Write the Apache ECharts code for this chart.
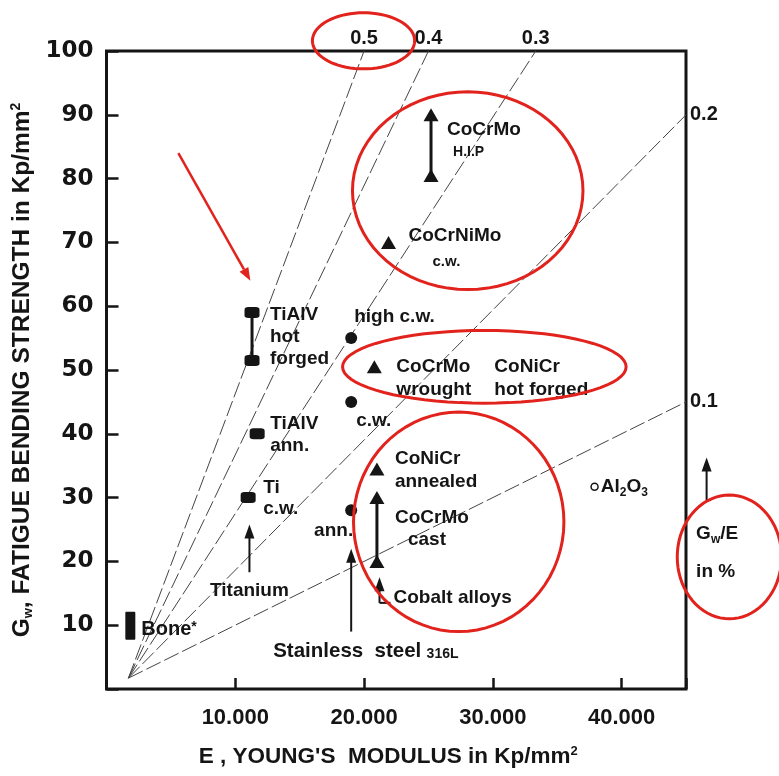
<!DOCTYPE html>
<html>
<head>
<meta charset="utf-8">
<title>Fatigue bending strength vs Young's modulus</title>
<script src="https://cdn.jsdelivr.net/npm/echarts@6/dist/echarts.min.js"></script>
<style>
  html, body { margin: 0; padding: 0; background: #fff; }
  #main { width: 779px; height: 776px; }
</style>
</head>
<body>
<div id="main"></div>
<script>
var FONT = "'Liberation Sans', Arial, sans-serif";
var WIDE = "'DejaVu Sans', sans-serif";
var INK = '#151515';
var RED = '#e2231d';

// sigma_w / E ratio lines, in %
var ratioValues = [0.5, 0.4, 0.3, 0.2, 0.1];
// the ratio lines are drawn from a common point near the origin, as in the original
var ratioFrom = [1700, 1.7];

// Titanium alloys (squares)
var tiModulus = [11300, 11300, 11700, 11000];
var tiStrength = [59, 51.5, 40, 30];
var tiLabels = ['TiAlV\nhot\nforged', '', 'TiAlV\nann.', 'Ti\nc.w.'];

// Stainless steel 316L (dots)
var steelModulus = [19000, 19000, 19000];
var steelStrength = [55, 45, 28];
var steelLabels = ['high c.w.', 'c.w.', 'ann.'];

// Cobalt alloys (triangles)
var coModulus = [25200, 25200, 21900, 20800, 21000, 21000, 21000];
var coStrength = [90, 80.5, 70, 50.5, 34.5, 30, 20];
var coLabels = [
  '{m|CoCrMo}\n{hip|H.I.P}', '',
  '{m|CoCrNiMo}\n{cw|c.w.}',
  '{w|CoCrMo}{m|CoNiCr}\n{w|wrought}{m|hot forged}',
  'CoNiCr\nannealed',
  '{m|CoCrMo}\n{ci|cast}', ''
];

// bars joining a range: Bone, TiAlV hot forged, CoCrMo H.I.P, CoCrMo cast
var rangeModulus = [1850, 11300, 25200, 21000];
var rangeLow = [7.7, 51.5, 80.5, 20];
var rangeHigh = [12.1, 59, 90, 30];

// ceramic
var aluminaModulus = [37900];
var aluminaStrength = [31.7];

// pointer arrows: modulus, tail, tip
var pointerModulus = [11100, 19000, 21200, 46600];
var pointerTail = [18.3, 9, 13.5, 29.5];
var pointerTip = [25.8, 22, 17.5, 36.3];
var pointerLabels = ['Titanium', '{big|Stainless  steel} {s|316L}', 'Cobalt alloys', '{m|G}{sub|w}{m|/E}\n{m|in %}'];

// red hand drawn rings: centre E, centre sigma, radius E, radius sigma
var ringCenterE = [19960, 28050, 29340, 27350, 48370];
var ringCenterS = [101.6, 78.1, 50.5, 26.2, 20.7];
var ringRadiusE = [3970, 8950, 11010, 8170, 4050];
var ringRadiusS = [4.4, 15.5, 5.7, 17.2, 9.7];
var redArrowFrom = [5580, 84];
var redArrowTo = [11170, 64];

var X_MAX = 45000;
var LS = 19;

var rich = {
  m: { fontFamily: FONT, fontWeight: 'bold', fontSize: LS, color: INK, lineHeight: 23 },
  w: { fontFamily: FONT, fontWeight: 'bold', fontSize: LS, color: INK, lineHeight: 19, width: 98 },
  hip: { fontFamily: FONT, fontWeight: 'bold', fontSize: 14, color: INK, lineHeight: 22, padding: [0, 0, 0, 6] },
  cw: { fontFamily: FONT, fontWeight: 'bold', fontSize: 15, color: INK, lineHeight: 29, padding: [0, 0, 0, 24] },
  ci: { fontFamily: FONT, fontWeight: 'bold', fontSize: LS, color: INK, lineHeight: 22, padding: [0, 0, 0, 13] }
};

/* label placed with its top-left corner at an offset from the marker */
function tag(text, dx, dy, lineHeight, align) {
  return {
    show: true, position: 'inside', align: align || 'left', verticalAlign: 'top',
    offset: [dx, dy], formatter: text,
    fontFamily: FONT, fontWeight: 'bold', fontSize: LS, color: INK,
    lineHeight: lineHeight || 23, rich: rich
  };
}

var tiTags = [[18, -8.5, 22], null, [13, -21.5, 22], [15, -20.5, 21]];
var steelTags = [[3, -32.5], [5, 7.5], [2, 8.5, 23, 'right']];
var coTags = [[16, 3.5], null, [20, -18.5], [22, -11.5, 19], [18, -21.5, 23], [18, 8.5], null];

function points(xs, ys, labels, tags) {
  return xs.map(function (x, i) {
    var item = { value: [x, ys[i]] };
    var t = tags && tags[i];
    if (t) item.label = tag(labels[i], t[0], t[1], t[2], t[3]);
    return item;
  });
}

var ratioSeries = ratioValues.map(function (r) {
  var eEnd = Math.min(X_MAX, 100 / r * 100);
  var atTop = eEnd < X_MAX;
  return {
    type: 'line', silent: true, showSymbol: true, symbolSize: 0, z: 1,
    lineStyle: { color: '#444', width: 1, type: [16, 4] },
    data: [
      ratioFrom,
      {
        value: [eEnd, eEnd * r / 100],
        label: {
          show: true, formatter: String(r),
          position: atTop ? 'top' : 'right', distance: atTop ? 3 : 4,
          fontFamily: FONT, fontWeight: 'bold', fontSize: 20, color: INK
        }
      }
    ]
  };
});

// caption offset from the tail [dx, dy, align, verticalAlign] and a little hook at the tail
var pointerText = [[0, 19, 'center', 'middle'], [-78, 20, 'left', 'middle'], [14, -5, 'left', 'middle'], [-10.5, 14, 'left', 'top']];
var pointerHook = [0, 0, 11, 0];

var pointerRich = {
  m: { fontFamily: FONT, fontWeight: 'bold', fontSize: LS, fill: INK, color: INK, lineHeight: 38 },
  big: { fontFamily: FONT, fontWeight: 'bold', fontSize: 20.5, fill: INK, color: INK, lineHeight: 26 },
  sub: { fontFamily: FONT, fontWeight: 'bold', fontSize: 12, fill: INK, color: INK, verticalAlign: 'middle', padding: [11, 0, 0, 0] },
  s: { fontFamily: FONT, fontWeight: 'bold', fontSize: 14, fill: INK, color: INK, verticalAlign: 'middle', padding: [5, 0, 0, 0] }
};

var option = {
  animation: false,
  backgroundColor: '#fff',
  grid: { left: 106.5, right: 93, top: 51, bottom: 87, show: true, borderColor: INK, borderWidth: 3 },
  xAxis: {
    type: 'value', min: 0, max: X_MAX, interval: 10000,
    axisLine: { show: false },
    axisTick: { inside: true, length: 11, lineStyle: { color: INK, width: 2.5 } },
    splitLine: { show: false },
    axisLabel: {
      margin: 18, color: INK, fontFamily: FONT, fontWeight: 'bold', fontSize: 22,
      formatter: function (v) { return v > 0 && v % 10000 === 0 ? (v / 1000) + '.000' : ''; }
    },
    name: "E , YOUNG'S  MODULUS in Kp/mm{p|2}",
    nameLocation: 'middle', nameGap: 56,
    nameTextStyle: {
      color: INK, fontFamily: FONT, fontWeight: 'bold', fontSize: 22.5, padding: [0, 16, 0, 0],
      rich: { p: { fontFamily: FONT, fontWeight: 'bold', fontSize: 13, color: INK, verticalAlign: 'top' } }
    }
  },
  yAxis: {
    type: 'value', min: 0, max: 100, interval: 10,
    axisLine: { show: false },
    axisTick: { inside: true, length: 12, lineStyle: { color: INK, width: 2.5 } },
    splitLine: { show: false },
    axisLabel: {
      margin: 13, color: INK, fontFamily: WIDE, fontWeight: 'bold', fontSize: 23,
      formatter: function (v) { return v > 0 ? String(v) : ''; }
    },
    name: '{g|G}{sub|w}{g|, FATIGUE BENDING STRENGTH in Kp/mm}{p|2}',
    nameLocation: 'middle', nameGap: 71,
    nameTextStyle: {
      color: INK, fontFamily: FONT, fontWeight: 'bold', fontSize: 24.5,
      rich: {
        g: { fontFamily: FONT, fontWeight: 'bold', fontSize: 24.5, color: INK },
        sub: { fontFamily: FONT, fontWeight: 'bold', fontSize: 13, color: INK, verticalAlign: 'bottom' },
        p: { fontFamily: FONT, fontWeight: 'bold', fontSize: 14, color: INK, verticalAlign: 'top' }
      }
    }
  },
  series: ratioSeries.concat([
    {
      // range bars and the bone block
      type: 'custom', name: 'ranges', silent: true, z: 3,
      data: rangeModulus.map(function (e, i) { return [e, rangeLow[i], rangeHigh[i]]; }),
      renderItem: function (params, api) {
        var lo = api.coord([api.value(0), api.value(1)]);
        var hi = api.coord([api.value(0), api.value(2)]);
        if (params.dataIndex === 0) {
          return {
            type: 'group', children: [
              { type: 'rect', shape: { x: lo[0] - 5, y: hi[1], width: 10, height: lo[1] - hi[1], r: 1 }, style: { fill: INK } },
              {
                type: 'text',
                style: {
                  text: '{b|Bone}{st|*}', x: lo[0] + 11, y: (lo[1] + hi[1]) / 2 + 4, verticalAlign: 'middle',
                  rich: {
                    b: { fontFamily: FONT, fontWeight: 'bold', fontSize: 20, fill: INK, color: INK },
                    st: { fontFamily: FONT, fontWeight: 'bold', fontSize: 14, fill: INK, color: INK, verticalAlign: 'top' }
                  }
                }
              }
            ]
          };
        }
        return {
          type: 'line', shape: { x1: lo[0], y1: lo[1], x2: hi[0], y2: hi[1] },
          style: { stroke: INK, lineWidth: 3 }
        };
      }
    },
    {
      type: 'scatter', name: 'Titanium', silent: true, z: 4,
      symbol: 'roundRect', symbolSize: [15, 11],
      itemStyle: { color: INK, opacity: 1 },
      data: points(tiModulus, tiStrength, tiLabels, tiTags)
    },
    {
      type: 'scatter', name: 'Stainless steel', silent: true, z: 4,
      symbol: 'circle', symbolSize: 12,
      itemStyle: { color: INK, opacity: 1 },
      data: points(steelModulus, steelStrength, steelLabels, steelTags)
    },
    {
      type: 'scatter', name: 'Cobalt alloys', silent: true, z: 4,
      symbol: 'triangle', symbolSize: [15, 13],
      itemStyle: { color: INK, opacity: 1 },
      data: points(coModulus, coStrength, coLabels, coTags)
    },
    {
      type: 'scatter', name: 'Al2O3', silent: true, z: 4,
      symbol: 'circle', symbolSize: 7,
      itemStyle: { color: '#fff', borderColor: INK, borderWidth: 1.5, opacity: 1 },
      label: {
        show: true, position: 'right', distance: 2,
        formatter: '{m|Al}{sub|2}{m|O}{sub|3}',
        rich: {
          m: { fontFamily: FONT, fontWeight: 'bold', fontSize: LS, color: INK, lineHeight: 23 },
          sub: { fontFamily: FONT, fontWeight: 'bold', fontSize: 12, color: INK, verticalAlign: 'bottom', lineHeight: 16 }
        }
      },
      data: aluminaModulus.map(function (e, i) { return [e, aluminaStrength[i]]; })
    },
    {
      // vertical pointer arrows with their captions
      type: 'custom', name: 'pointers', silent: true, clip: false, z: 4,
      data: pointerModulus.map(function (e, i) { return [e, pointerTail[i], pointerTip[i]]; }),
      renderItem: function (params, api) {
        var i = params.dataIndex;
        var tail = api.coord([api.value(0), api.value(1)]);
        var tip = api.coord([api.value(0), api.value(2)]);
        var t = pointerText[i];
        var parts = [
          { type: 'line', shape: { x1: tail[0], y1: tail[1], x2: tip[0], y2: tip[1] + 10 }, style: { stroke: INK, lineWidth: 2 } },
          { type: 'polygon', shape: { points: [[tip[0], tip[1]], [tip[0] - 5, tip[1] + 14], [tip[0] + 5, tip[1] + 14]] }, style: { fill: INK } },
          {
            type: 'text',
            style: {
              text: pointerLabels[i], x: tail[0] + t[0], y: tail[1] + t[1],
              align: t[2], verticalAlign: t[3],
              fontFamily: FONT, fontWeight: 'bold', fontSize: LS, fill: INK,
              rich: pointerRich
            }
          }
        ];
        if (pointerHook[i]) {
          parts.push({ type: 'line', shape: { x1: tail[0], y1: tail[1], x2: tail[0] + pointerHook[i], y2: tail[1] }, style: { stroke: INK, lineWidth: 2 } });
        }
        return { type: 'group', children: parts };
      }
    },
    {
      // red hand drawn rings
      type: 'custom', name: 'rings', silent: true, clip: false, z: 10,
      data: ringCenterE.map(function (e, i) { return [e, ringCenterS[i], ringRadiusE[i], ringRadiusS[i]]; }),
      renderItem: function (params, api) {
        var c = api.coord([api.value(0), api.value(1)]);
        var r = api.size([api.value(2), api.value(3)]);
        var pts = [];
        for (var k = 0; k < 72; k++) {
          var a = k / 72 * Math.PI * 2;
          pts.push([c[0] + r[0] * Math.cos(a), c[1] + r[1] * Math.sin(a)]);
        }
        return { type: 'polygon', shape: { points: pts }, style: { fill: 'none', stroke: RED, lineWidth: 3 } };
      }
    },
    {
      type: 'custom', name: 'red arrow', silent: true, clip: false, z: 10,
      data: [[redArrowFrom[0], redArrowFrom[1], redArrowTo[0], redArrowTo[1]]],
      renderItem: function (params, api) {
        var a = api.coord([api.value(0), api.value(1)]);
        var b = api.coord([api.value(2), api.value(3)]);
        var ang = Math.atan2(b[1] - a[1], b[0] - a[0]);
        var len = 13, half = 5;
        var bx = b[0] - len * Math.cos(ang), by = b[1] - len * Math.sin(ang);
        return {
          type: 'group', children: [
            { type: 'line', shape: { x1: a[0], y1: a[1], x2: bx, y2: by }, style: { stroke: RED, lineWidth: 2.5 } },
            {
              type: 'polygon',
              shape: { points: [[b[0], b[1]], [bx - half * Math.sin(ang), by + half * Math.cos(ang)], [bx + half * Math.sin(ang), by - half * Math.cos(ang)]] },
              style: { fill: RED }
            }
          ]
        };
      }
    }
  ])
};

var chart = echarts.init(document.getElementById('main'));
chart.setOption(option);
</script>
</body>
</html>
